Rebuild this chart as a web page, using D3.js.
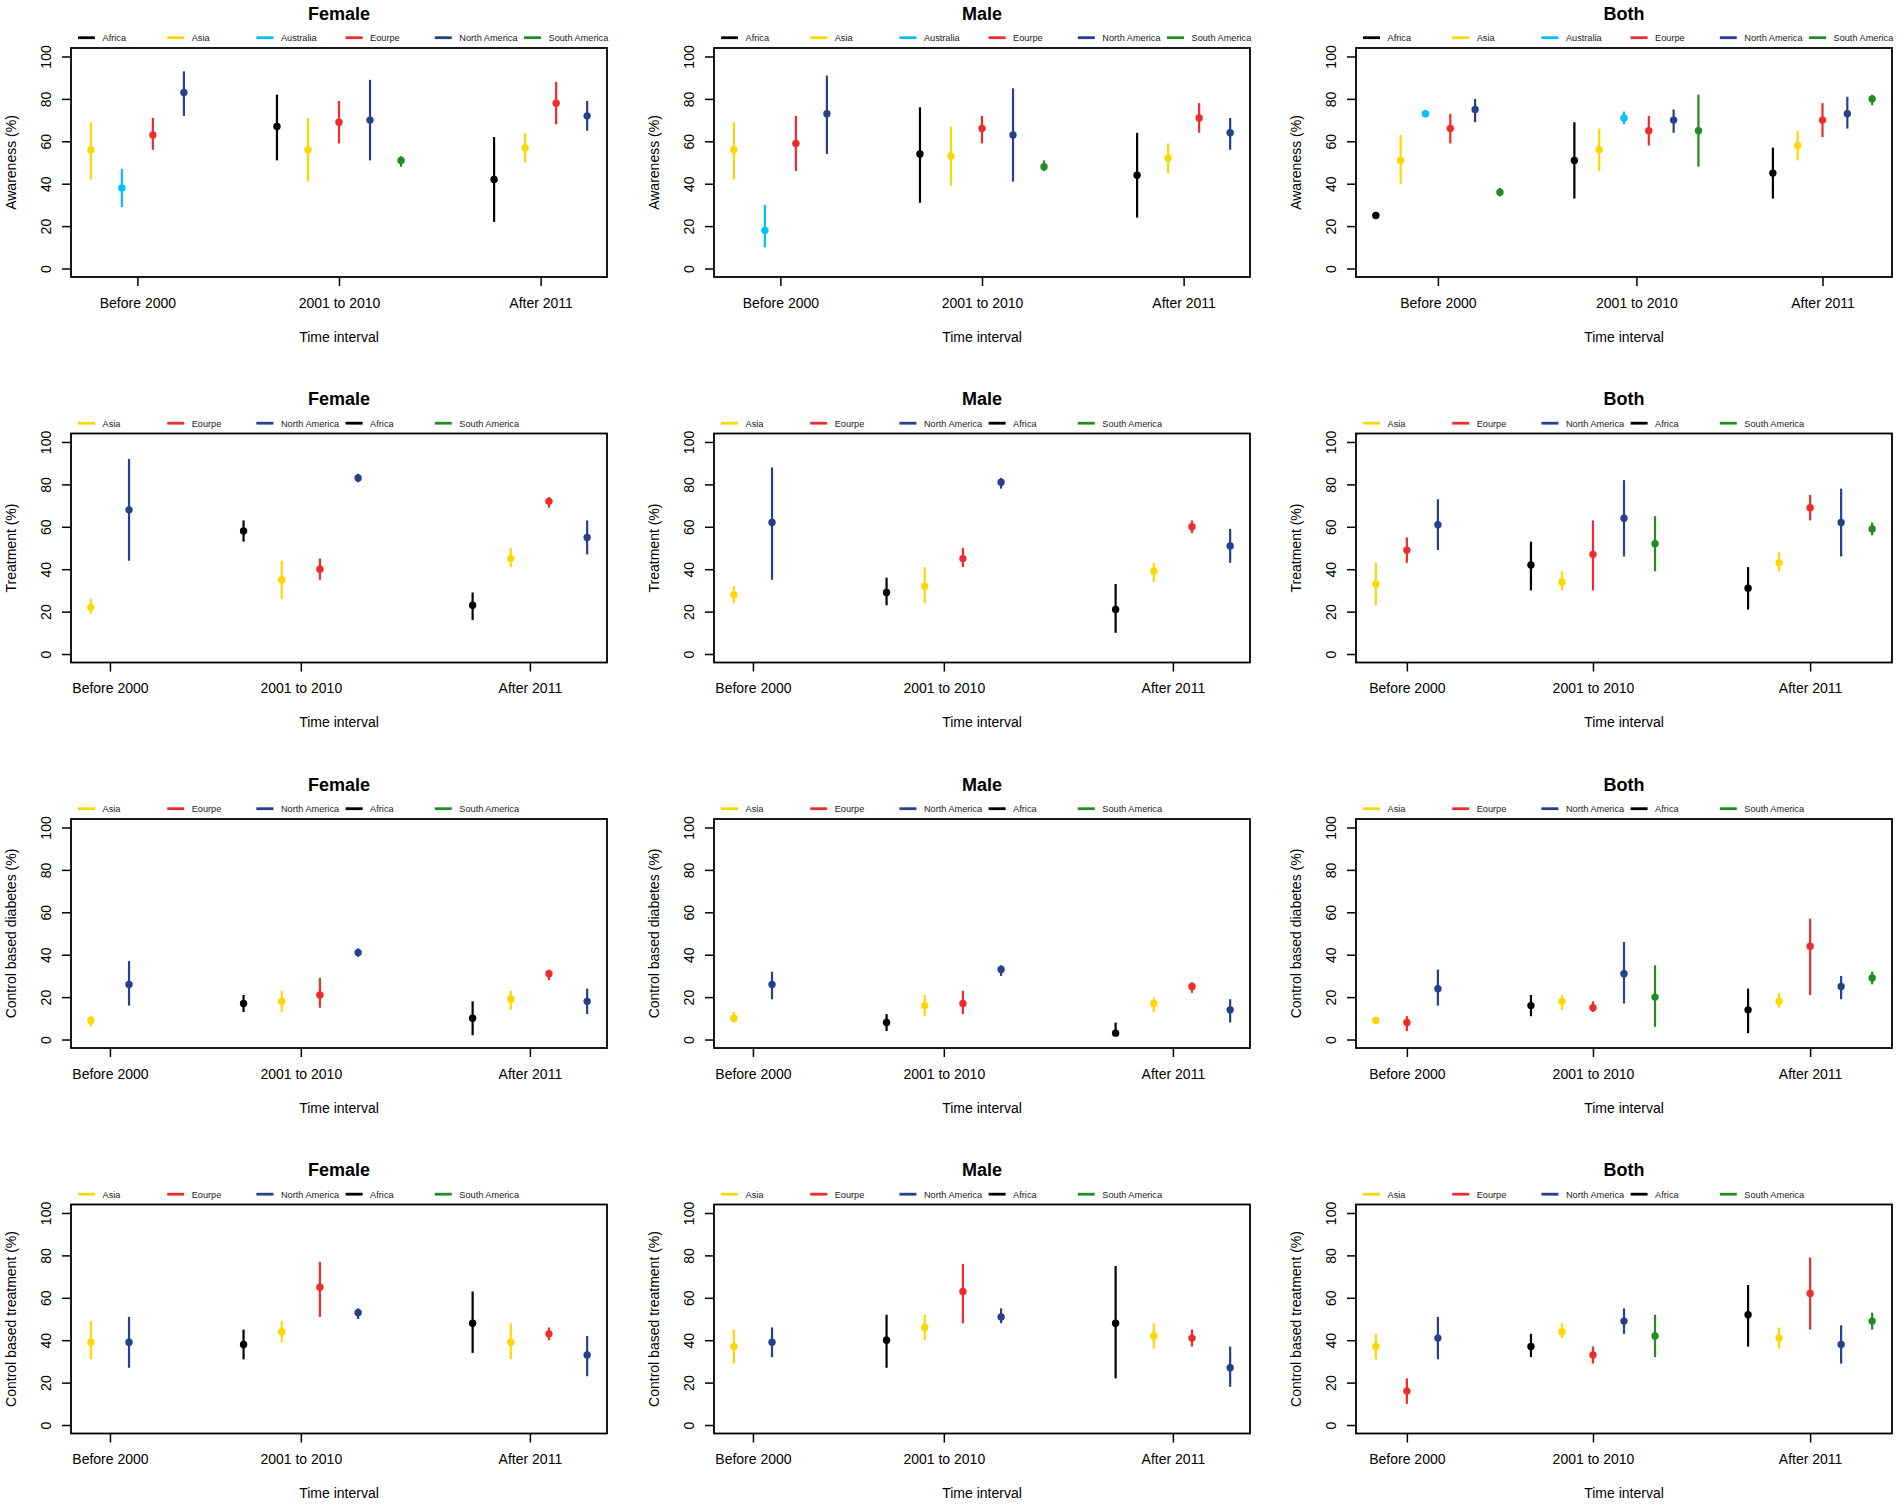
<!DOCTYPE html>
<html>
<head>
<meta charset="utf-8">
<script src="https://cdn.jsdelivr.net/npm/d3@7"></script>
<style>
  body { margin: 0; background: #fff; }
  svg text { font-family: "Liberation Sans", Arial, Helvetica, sans-serif; fill: #000; }
</style>
</head>
<body>
<div id="chart"></div>
<script>

var periods = ["Before 2000", "2001 to 2010", "After 2011"];
var regionOrder = ["Africa", "Asia", "Australia", "Europe", "North America", "South America"];
var regionColor = {
    "Africa": "#000000",
    "Asia": "#FFD700",
    "Australia": "#00BFFF",
    "Europe": "#EE2C2C",
    "North America": "#27408B",
    "South America": "#228B22"
};

var legendFirstRow = ["Africa", "Asia", "Australia", "Europe", "North America", "South America"];
var legendOtherRows = ["Asia", "Europe", "North America", "Africa", "South America"];

var sexes = ["Female", "Male", "Both"];
var measures = ["Awareness (%)", "Treatment (%)", "Control based diabetes (%)", "Control based treatment (%)"];
var yTicks = [0, 20, 40, 60, 80, 100];

// [period, region, estimate, lower, upper]
var awarenessFemale = [
    [0, "Asia", 56, 42, 69], [0, "Australia", 38, 29, 47], [0, "Europe", 63, 56, 71], [0, "North America", 83, 72, 93],
    [1, "Africa", 67, 51, 82], [1, "Asia", 56, 41, 71], [1, "Europe", 69, 59, 79], [1, "North America", 70, 51, 89], [1, "South America", 51, 48, 53],
    [2, "Africa", 42, 22, 62], [2, "Asia", 57, 50, 64], [2, "Europe", 78, 68, 88], [2, "North America", 72, 65, 79]
];
var awarenessMale = [
    [0, "Asia", 56, 42, 69], [0, "Australia", 18, 10, 30], [0, "Europe", 59, 46, 72], [0, "North America", 73, 54, 91],
    [1, "Africa", 54, 31, 76], [1, "Asia", 53, 39, 67], [1, "Europe", 66, 59, 72], [1, "North America", 63, 41, 85], [1, "South America", 48, 46, 51],
    [2, "Africa", 44, 24, 64], [2, "Asia", 52, 45, 59], [2, "Europe", 71, 64, 78], [2, "North America", 64, 56, 71]
];
var awarenessBoth = [
    [0, "Africa", 25, 24, 26], [0, "Asia", 51, 40, 63], [0, "Australia", 73, 72, 74], [0, "Europe", 66, 59, 73], [0, "North America", 75, 69, 80], [0, "South America", 36, 34, 38],
    [1, "Africa", 51, 33, 69], [1, "Asia", 56, 46, 66], [1, "Australia", 71, 68, 74], [1, "Europe", 65, 58, 72], [1, "North America", 70, 64, 75], [1, "South America", 65, 48, 82],
    [2, "Africa", 45, 33, 57], [2, "Asia", 58, 51, 65], [2, "Europe", 70, 62, 78], [2, "North America", 73, 66, 81], [2, "South America", 80, 77, 82]
];
var treatmentFemale = [
    [0, "Asia", 22, 19, 26], [0, "North America", 68, 44, 92],
    [1, "Africa", 58, 53, 63], [1, "Asia", 35, 26, 44], [1, "Europe", 40, 35, 45], [1, "North America", 83, 81, 85],
    [2, "Africa", 23, 16, 29], [2, "Asia", 45, 41, 50], [2, "Europe", 72, 69, 74], [2, "North America", 55, 47, 63]
];
var treatmentMale = [
    [0, "Asia", 28, 24, 32], [0, "North America", 62, 35, 88],
    [1, "Africa", 29, 23, 36], [1, "Asia", 32, 24, 41], [1, "Europe", 45, 41, 50], [1, "North America", 81, 78, 83],
    [2, "Africa", 21, 10, 33], [2, "Asia", 39, 34, 43], [2, "Europe", 60, 57, 63], [2, "North America", 51, 43, 59]
];
var treatmentBoth = [
    [0, "Asia", 33, 23, 43], [0, "Europe", 49, 43, 55], [0, "North America", 61, 49, 73],
    [1, "Africa", 42, 30, 53], [1, "Asia", 34, 30, 39], [1, "Europe", 47, 30, 63], [1, "North America", 64, 46, 82], [1, "South America", 52, 39, 65],
    [2, "Africa", 31, 21, 41], [2, "Asia", 43, 39, 48], [2, "Europe", 69, 63, 75], [2, "North America", 62, 46, 78], [2, "South America", 59, 56, 62]
];
var controlDiabetesFemale = [
    [0, "Asia", 9, 6, 11], [0, "North America", 26, 16, 37],
    [1, "Africa", 17, 13, 21], [1, "Asia", 18, 13, 23], [1, "Europe", 21, 15, 29], [1, "North America", 41, 39, 43],
    [2, "Africa", 10, 2, 18], [2, "Asia", 19, 14, 23], [2, "Europe", 31, 28, 33], [2, "North America", 18, 12, 24]
];
var controlDiabetesMale = [
    [0, "Asia", 10, 8, 13], [0, "North America", 26, 19, 32],
    [1, "Africa", 8, 4, 12], [1, "Asia", 16, 11, 21], [1, "Europe", 17, 12, 23], [1, "North America", 33, 30, 35],
    [2, "Africa", 3, 2, 8], [2, "Asia", 17, 13, 20], [2, "Europe", 25, 22, 27], [2, "North America", 14, 8, 19]
];
var controlDiabetesBoth = [
    [0, "Asia", 9, 7.5, 10.5], [0, "Europe", 8, 4, 11], [0, "North America", 24, 16, 33],
    [1, "Africa", 16, 11, 21], [1, "Asia", 18, 14, 21], [1, "Europe", 15, 13, 18], [1, "North America", 31, 17, 46], [1, "South America", 20, 6, 35],
    [2, "Africa", 14, 3, 24], [2, "Asia", 18, 15, 22], [2, "Europe", 44, 21, 57], [2, "North America", 25, 19, 30], [2, "South America", 29, 26, 32]
];
var controlTreatmentFemale = [
    [0, "Asia", 39, 31, 49], [0, "North America", 39, 27, 51],
    [1, "Africa", 38, 31, 45], [1, "Asia", 44, 39, 49], [1, "Europe", 65, 51, 77], [1, "North America", 53, 50, 55],
    [2, "Africa", 48, 34, 63], [2, "Asia", 39, 31, 48], [2, "Europe", 43, 40, 46], [2, "North America", 33, 23, 42]
];
var controlTreatmentMale = [
    [0, "Asia", 37, 29, 45], [0, "North America", 39, 32, 46],
    [1, "Africa", 40, 27, 52], [1, "Asia", 46, 40, 52], [1, "Europe", 63, 48, 76], [1, "North America", 51, 48, 55],
    [2, "Africa", 48, 22, 75], [2, "Asia", 42, 36, 48], [2, "Europe", 41, 37, 45], [2, "North America", 27, 18, 37]
];
var controlTreatmentBoth = [
    [0, "Asia", 37, 31, 43], [0, "Europe", 16, 10, 22], [0, "North America", 41, 31, 51],
    [1, "Africa", 37, 32, 43], [1, "Asia", 44, 41, 48], [1, "Europe", 33, 29, 37], [1, "North America", 49, 43, 55], [1, "South America", 42, 32, 52],
    [2, "Africa", 52, 37, 66], [2, "Asia", 41, 36, 46], [2, "Europe", 62, 45, 79], [2, "North America", 38, 29, 47], [2, "South America", 49, 45, 53]
];

var panels = [
    [awarenessFemale, awarenessMale, awarenessBoth],
    [treatmentFemale, treatmentMale, treatmentBoth],
    [controlDiabetesFemale, controlDiabetesMale, controlDiabetesBoth],
    [controlTreatmentFemale, controlTreatmentMale, controlTreatmentBoth]
];

var width = 1902, height = 1505;
var colLeft = [71, 714, 1356],
    boxW = 536,
    rowStep = 385.5,
    boxTop = 48,
    boxH = 229;

var svg = d3.select("#chart")
    .append("svg")
    .attr("width", width)
    .attr("height", height);

svg.append("rect").attr("width", width).attr("height", height).attr("fill", "#fff");

function legendLabel(r) { return r === "Europe" ? "Eourpe" : r; }

panels.forEach(function(row, ri) {
    row.forEach(function(rows, ci) {

        var data = rows.map(function(d) {
            return {period: d[0], region: d[1], est: d[2], lo: d[3], hi: d[4]};
        });

        // consecutive slots inside each period, two empty slots between periods
        var pos = 0, centers = [];
        periods.forEach(function(p, pi) {
            var grp = data.filter(function(d) { return d.period === pi; })
                .sort(function(a, b) { return regionOrder.indexOf(a.region) - regionOrder.indexOf(b.region); });
            if (pi > 0) pos += 2;
            var start = pos;
            grp.forEach(function(d) { d.pos = pos; pos++; });
            centers.push((start + pos - 1) / 2);
        });

        var maxPos = d3.max(data, function(d) { return d.pos; });
        var pad = maxPos * 0.04;

        var x = d3.scaleLinear().domain([-pad, maxPos + pad]).range([0, boxW]);
        var y = d3.scaleLinear().domain([-4, 104]).range([boxH, 0]);

        var top = ri * rowStep;
        var g = svg.append("g")
            .attr("transform", "translate(" + colLeft[ci] + "," + (top + boxTop) + ")");

        // title
        g.append("text")
            .attr("x", boxW / 2)
            .attr("y", 19.7 - boxTop)
            .attr("text-anchor", "middle")
            .style("font-size", "18px")
            .style("font-weight", "bold")
            .text(sexes[ci]);

        // legend
        var legendItems = ri === 0 ? legendFirstRow : legendOtherRows;
        var leg = g.selectAll(".legend")
            .data(legendItems)
            .enter().append("g")
            .attr("transform", function(d, i) { return "translate(" + (i * 89.2) + "," + (37.7 - boxTop) + ")"; });
        leg.append("line")
            .attr("x1", 7).attr("x2", 24)
            .attr("stroke", function(d) { return regionColor[d]; })
            .attr("stroke-width", 2.8);
        leg.append("text")
            .attr("x", 31.5)
            .attr("y", 3.3)
            .style("font-size", "9.2px")
            .style("fill", "#1a1a1a")
            .text(legendLabel);

        // y axis
        var yAx = g.append("g")
            .call(d3.axisLeft(y).tickValues(yTicks).tickSize(9).tickFormat(d3.format("d")));
        yAx.select(".domain").remove();
        yAx.selectAll("line").attr("stroke", "#000").attr("stroke-width", 1.5);
        yAx.selectAll("text")
            .attr("x", null).attr("dy", null)
            .attr("transform", "translate(-25,0) rotate(-90)")
            .attr("text-anchor", "middle")
            .attr("dominant-baseline", "central")
            .style("font-size", "14px")
            .style("font-family", "'Liberation Sans', Arial, sans-serif");

        // x axis
        var xAx = g.append("g")
            .attr("transform", "translate(0," + boxH + ")")
            .call(d3.axisBottom(x).tickValues(centers).tickSize(9)
                .tickFormat(function(d, i) { return periods[i]; }));
        xAx.select(".domain").remove();
        xAx.selectAll("line").attr("stroke", "#000").attr("stroke-width", 1.5);
        xAx.selectAll("text")
            .attr("y", 30.7).attr("dy", null)
            .style("font-size", "14px")
            .style("font-family", "'Liberation Sans', Arial, sans-serif");

        // axis titles
        g.append("text")
            .attr("transform", "translate(-60," + (boxH / 2) + ") rotate(-90)")
            .attr("text-anchor", "middle")
            .attr("dominant-baseline", "central")
            .style("font-size", "14px")
            .text(measures[ri]);

        g.append("text")
            .attr("x", boxW / 2)
            .attr("y", 341.7 - boxTop)
            .attr("text-anchor", "middle")
            .style("font-size", "14px")
            .text("Time interval");

        // error bars and points
        g.selectAll(".bar")
            .data(data)
            .enter().append("line")
            .attr("x1", function(d) { return x(d.pos); })
            .attr("x2", function(d) { return x(d.pos); })
            .attr("y1", function(d) { return y(d.lo); })
            .attr("y2", function(d) { return y(d.hi); })
            .attr("stroke", function(d) { return regionColor[d.region]; })
            .attr("stroke-width", 2.2);

        g.selectAll(".pt")
            .data(data)
            .enter().append("circle")
            .attr("cx", function(d) { return x(d.pos); })
            .attr("cy", function(d) { return y(d.est); })
            .attr("r", 3.7)
            .attr("fill", function(d) { return regionColor[d.region]; });

        // plot box
        g.append("rect")
            .attr("width", boxW)
            .attr("height", boxH)
            .attr("fill", "none")
            .attr("stroke", "#000")
            .attr("stroke-width", 1.8);
    });
});

</script>
</body>
</html>
